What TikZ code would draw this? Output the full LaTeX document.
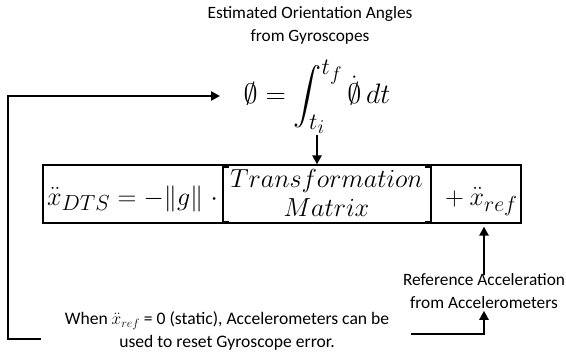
\documentclass[tikz,border=0pt]{standalone}
\usepackage{amsmath}
\usepackage[no-math]{fontspec}
\setmainfont{Carlito}
\usetikzlibrary{arrows.meta}
\newcommand{\eqsz}[1]{\scalebox{1.05}{\fontsize{24.88}{30}\selectfont $\displaystyle #1$}}
\begin{document}
\begin{tikzpicture}[x=1pt,y=-1pt,
  arr/.style={line width=2.6pt, -{Triangle[length=9pt,width=9pt]}},
  lbl/.style={font=\fontsize{17.3}{23}\selectfont, align=center, inner sep=2pt},
  eqbox/.style={draw, line width=1.2pt, minimum width=478pt, minimum height=58pt, inner sep=0pt},
  eqpart/.style={inner sep=0pt},
  brk/.style={line width=1.1pt}]
\useasboundingbox (0,0) rectangle (566,353);

\node[lbl] (top) at (310,25.5) {Estimated Orientation Angles\\from Gyroscopes};

\node[inner sep=1pt] (integ) at (317,97) {\scalebox{1.13}{\fontsize{24.88}{30}\selectfont $\displaystyle \emptyset = \int_{t_i}^{t_f} \dot{\emptyset}\,dt$}};

% equation box
\node[eqbox] (box) at (282,194) {};
\node[eqpart, anchor=base east] (lhs) at (218,205) {\eqsz{\ddot{x}_{DTS} = -\|g\|\;\cdot}};
\node[eqpart, anchor=base] (m1) at (326.5,187) {\eqsz{Transformation}};
\node[eqpart, anchor=base] (m2) at (326.5,216) {\eqsz{Matrix}};
\node[eqpart, anchor=base west] (rhs) at (439,205) {\eqsz{{}+\ddot{x}_{ref}}};
\draw[brk] (229,167) -- (223,167) -- (223,222) -- (229,222);
\draw[brk] (425,167) -- (431,167) -- (431,222) -- (425,222);

\node[lbl] (ref) at (484,291) {Reference Acceleration\\from Accelerometers};

\node[lbl, font=\fontsize{17.6}{23}\selectfont] (when) at (227,331) {When $\ddot{x}_{ref}$ = 0 (static), Accelerometers can be\\used to reset Gyroscope error.};

\coordinate (lb) at (41,339);
\coordinate (la) at (220,96);
\coordinate (rb) at (411,334);

\draw[arr] (integ.south) -- (integ.south |- box.north);
\draw[arr, shorten >=3pt, shorten <=-4pt] (ref.north) -- (ref.north |- box.south);
\draw[arr] (rb) -| (ref.south);
\draw[arr] (lb) -- (8,339) |- (la);
\end{tikzpicture}
\end{document}
